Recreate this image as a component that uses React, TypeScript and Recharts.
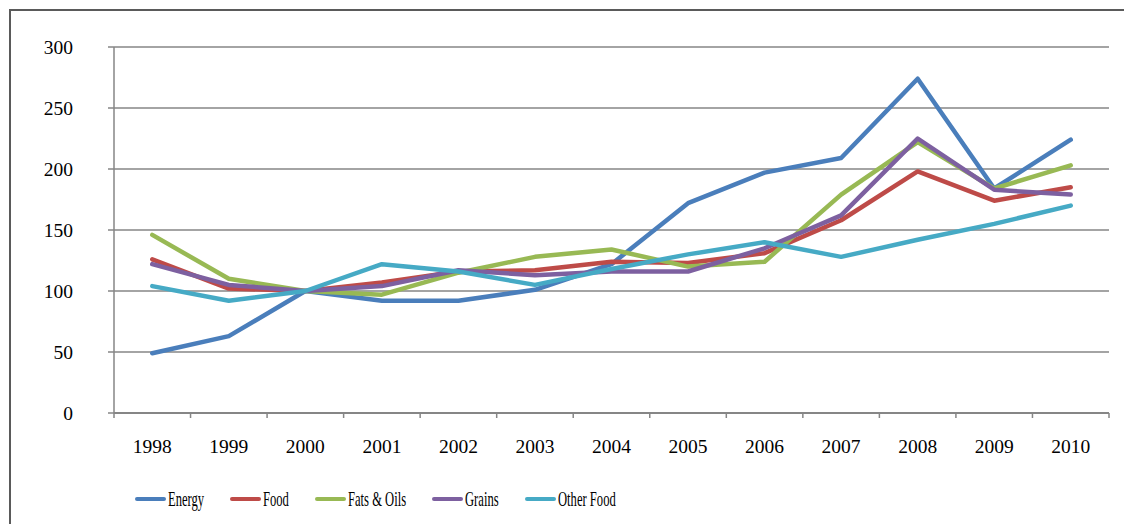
import { useMemo } from 'react';
import { CartesianGrid, Line, LineChart, XAxis, YAxis } from 'recharts';

const years = ['1998', '1999', '2000', '2001', '2002', '2003', '2004', '2005', '2006', '2007', '2008', '2009', '2010'];

const energy = [49, 63, 100, 92, 92, 101, 122, 172, 197, 209, 274, 184, 224];
const food = [126, 102, 100, 107, 116, 117, 124, 123, 131, 158, 198, 174, 185];
const fatsOils = [146, 110, 100, 97, 115, 128, 134, 120, 124, 179, 222, 184, 203];
const grains = [122, 105, 100, 104, 117, 113, 116, 116, 135, 162, 225, 183, 179];
const otherFood = [104, 92, 100, 122, 116, 105, 118, 130, 140, 128, 142, 155, 170];

const yTicks = [0, 50, 100, 150, 200, 250, 300];

const SERIES = [
  { key: 'energy', name: 'Energy', color: '#4A7EBB', values: energy },
  { key: 'food', name: 'Food', color: '#BE4B48', values: food },
  { key: 'fats', name: 'Fats & Oils', color: '#98B954', values: fatsOils },
  { key: 'grains', name: 'Grains', color: '#7D60A0', values: grains },
  { key: 'other', name: 'Other Food', color: '#46AAC5', values: otherFood },
];

const FONT = 'Liberation Serif, serif';
const AXIS = '#868686';
const LEGEND_SQUEEZE = 0.6;

// edges of each year band get a tick mark, band centres get the year label
const xTicks = [
  ...years.map((_, i) => i - 0.5),
  years.length - 0.5,
  ...years.map((_, i) => i),
].sort((a, b) => a - b);

interface TickProps {
  x?: number;
  y?: number;
  payload?: { value: number };
}

function YearTick({ x = 0, y = 0, payload }: TickProps) {
  const v = payload?.value ?? 0;
  if (!Number.isInteger(v)) {
    return <line x1={x} x2={x} y1={y} y2={y + 5} stroke={AXIS} strokeWidth={1.5} />;
  }
  return (
    <text x={x} y={y + 26} dy="0.71em" textAnchor="middle" fontSize={19.5} fontFamily={FONT} fill="#000">
      {years[v]}
    </text>
  );
}

function LegendRow() {
  const widths = useMemo(() => {
    const ctx = document.createElement('canvas').getContext('2d');
    if (!ctx) return SERIES.map((s) => s.name.length * 10);
    ctx.font = `21px ${FONT}`;
    return SERIES.map((s) => ctx.measureText(s.name).width);
  }, []);

  return (
    <div
      style={{
        position: 'absolute',
        top: 477,
        left: 127,
        height: 28,
        display: 'flex',
        alignItems: 'center',
        gap: 26,
        fontFamily: FONT,
        fontSize: 21,
        color: '#000',
      }}
    >
      {SERIES.map((s, i) => (
        <div key={s.key} style={{ display: 'flex', alignItems: 'center' }}>
          <span
            style={{ width: 31, height: 4, background: s.color, borderRadius: 2, marginRight: 2 }}
          />
          <span style={{ display: 'inline-block', width: widths[i] * LEGEND_SQUEEZE, whiteSpace: 'nowrap' }}>
            <span
              style={{
                display: 'inline-block',
                transform: `scaleX(${LEGEND_SQUEEZE})`,
                transformOrigin: 'left center',
              }}
            >
              {s.name}
            </span>
          </span>
        </div>
      ))}
    </div>
  );
}

export default function App() {
  const data = useMemo(
    () =>
      years.map((year, i) => {
        const row: Record<string, number | string> = { year, idx: i };
        SERIES.forEach((s) => {
          row[s.key] = s.values[i];
        });
        return row;
      }),
    [],
  );

  return (
    <div style={{ position: 'relative', width: 1124, height: 524, marginBottom: -8, background: '#fff' }}>
      <div
        style={{
          position: 'absolute',
          left: 1,
          top: 1,
          right: 0,
          bottom: 0,
          borderLeft: '2px solid #5a5a5a',
          borderTop: '2px solid #5a5a5a',
        }}
      />
      <div style={{ position: 'absolute', left: 0, top: 0 }}>
        <LineChart width={1124} height={470} data={data} margin={{ top: 39, right: 23, left: 0, bottom: 0 }}>
          <CartesianGrid vertical={false} stroke={AXIS} strokeWidth={1.5} />
          <XAxis
            dataKey="idx"
            type="number"
            domain={[-0.5, years.length - 0.5]}
            ticks={xTicks}
            tick={<YearTick />}
            tickSize={0}
            tickMargin={0}
            tickLine={false}
            axisLine={{ stroke: AXIS, strokeWidth: 2 }}
            height={65}
            interval={0}
          />
          <YAxis
            domain={[0, 300]}
            ticks={yTicks}
            width={106}
            tick={{ fontSize: 19.5, fill: '#000', fontFamily: FONT }}
            tickSize={6}
            tickMargin={35}
            axisLine={{ stroke: AXIS, strokeWidth: 1.5 }}
            tickLine={{ stroke: AXIS, strokeWidth: 1.5 }}
            interval={0}
          />
          {SERIES.map((s) => (
            <Line
              key={s.key}
              dataKey={s.key}
              name={s.name}
              type="linear"
              stroke={s.color}
              strokeWidth={4.5}
              strokeLinecap="round"
              strokeLinejoin="round"
              dot={false}
              activeDot={false}
              isAnimationActive={false}
            />
          ))}
        </LineChart>
      </div>
      <LegendRow />
    </div>
  );
}
